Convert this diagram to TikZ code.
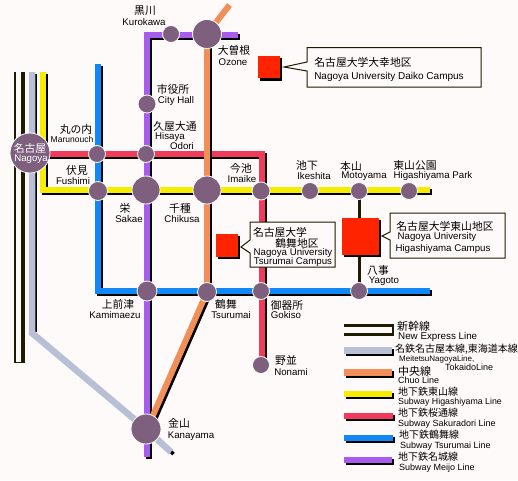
\documentclass[tikz,border=0pt]{standalone}
\usepackage{fontspec}
\setmainfont{Liberation Sans}
\newfontfamily\cjk{Noto Sans CJK JP}
\definecolor{bgc}{HTML}{FFFAFA}
\definecolor{stn}{HTML}{7E607E}
\definecolor{shk}{HTML}{1F1A00}
\definecolor{tkd}{HTML}{B8C0D6}
\definecolor{chu}{HTML}{F28F58}
\definecolor{hig}{HTML}{F5EC00}
\definecolor{sak}{HTML}{F23A5A}
\definecolor{tsu}{HTML}{1088F8}
\definecolor{mei}{HTML}{A85CEC}
\definecolor{red1}{HTML}{FF2400}
\tikzset{
 x=1pt,y=-1pt,
 stnnode/.style={circle,fill=stn,draw=white,line width=0.8pt,inner sep=0pt,outer sep=0pt,minimum size=#1},
 ja/.style={font=\cjk\fontsize{10.8}{12}\selectfont,inner sep=0pt,anchor=center},
 jal/.style={font=\cjk\fontsize{10}{12}\selectfont,inner sep=0pt,anchor=west},
 jam/.style={font=\cjk\fontsize{11}{12}\selectfont,inner sep=0pt,anchor=west},
 en/.style={font=\fontsize{9.7}{10}\selectfont,inner sep=0pt,anchor=center},
 enl/.style={font=\fontsize{9}{10}\selectfont,inner sep=0pt,anchor=west},
 enc/.style={font=\fontsize{10}{10}\selectfont,inner sep=0pt,anchor=center},
 callout/.style={draw=shk,fill=bgc,line width=1pt},
 redbox/.style={fill=red1,inner sep=0pt,outer sep=0pt},
}
\newcommand{\shline}[3]{% colour, width, path
  \draw[line width=#2,black,line cap=butt,line join=miter,shift={(2pt,-2pt)}] #3;
  \draw[line width=#2,#1,line cap=butt,line join=miter] #3;}
\begin{document}
\begin{tikzpicture}
\useasboundingbox[fill=bgc] (0,0) rectangle (518,480);
% Shinkansen
\fill[shk] (14,72) rectangle (25,363);
\fill[bgc] (16,72) rectangle (21,362);
% Tokaido / Meitetsu
\draw[line width=6.5pt,black] (34,74) -- (34,332);
\draw[line width=5pt,black] (170.5,453.5) -- (173,451);
\draw[line width=6.5pt,tkd,line join=miter] (32,72) -- (32,333) -- (146,429) -- (171,452);
% Higashiyama
\shline{hig}{6pt}{(43,72) -- (43,190) -- (430,190)}
% Sakuradori
\shline{sak}{6pt}{(30,154) -- (262,154) -- (262,365)}
% Tsurumai
\shline{tsu}{6pt}{(98,64) -- (98,291) -- (430,291)}
% Meijo
\shline{mei}{6pt}{(238,35) -- (147,35) -- (147,457)}
% Chuo
\shline{chu}{6pt}{(207,34) -- (207,292)}
\shline{chu}{6pt}{(207,292) -- (147,429)}
\draw[line width=6pt,chu] (207,34) -- (229.5,5);
% Motoyama-Yagoto link
\draw[line width=3pt,shk] (359.5,192) -- (359.5,290);
% stations
\node[stnnode=40pt] (nagoya) at (30,153) {};
\node[stnnode=29pt] (ozone) at (207,34) {};
\node[stnnode=17pt] (kuro) at (171,34) {};
\node[stnnode=18pt] (city) at (147,104) {};
\node[stnnode=17pt] (hisaya) at (146,154) {};
\node[stnnode=17pt] (maru) at (97,154) {};
\node[stnnode=19pt] (fushimi) at (98,191) {};
\node[stnnode=28pt] (sakae) at (146,190) {};
\node[stnnode=28pt] (chikusa) at (207,190) {};
\node[stnnode=18pt] (imaike) at (261,191) {};
\node[stnnode=17pt] (ikeshita) at (310,191) {};
\node[stnnode=17pt] (motoyama) at (359,191) {};
\node[stnnode=17pt] (higapark) at (409,191) {};
\node[stnnode=20pt] (kami) at (147,291) {};
\node[stnnode=19pt] (tsuru) at (207,292) {};
\node[stnnode=17pt] (gokiso) at (261,291) {};
\node[stnnode=17pt] (yagoto) at (359,291) {};
\node[stnnode=17pt] (nonami) at (261,365) {};
\node[stnnode=30pt] (kana) at (146,429) {};
% station labels
\node[ja,text=white] at (30,148) {名古屋};
\node[en,text=white] at (31,159.5) {Nagoya};
\node[ja] at (145,11) {黒川};
\node[en] at (144,22) {Kurokawa};
\node[ja] at (234,50) {大曽根};
\node[en] at (233,62) {Ozone};
\node[ja] at (173,89) {市役所};
\node[en] at (176,101) {City Hall};
\node[ja] at (175,126) {久屋大通};
\node[en] at (170,137) {Hisaya};
\node[en] at (182,146) {Odori};
\node[ja] at (76,129) {丸の内};
\node[en,font=\fontsize{8.5}{9}\selectfont] at (72,139) {Marunouch};
\node[ja] at (77,170) {伏見};
\node[en] at (73,181) {Fushimi};
\node[ja] at (125,208) {栄};
\node[en] at (129,219) {Sakae};
\node[ja] at (180,208) {千種};
\node[en] at (182,219) {Chikusa};
\node[ja] at (241,168) {今池};
\node[en] at (242,179) {Imaike};
\node[ja] at (307,165) {池下};
\node[en] at (314,176) {Ikeshita};
\node[ja] at (351,166) {本山};
\node[en] at (364,176) {Motoyama};
\node[ja] at (415,165) {東山公園};
\node[en] at (433,176) {Higashiyama Park};
\node[ja] at (118,304) {上前津};
\node[en] at (115,315) {Kamimaezu};
\node[ja] at (226,304) {鶴舞};
\node[en] at (231,315) {Tsurumai};
\node[ja] at (287,305) {御器所};
\node[en] at (286,315) {Gokiso};
\node[ja] at (378,270) {八事};
\node[en] at (384,281) {Yagoto};
\node[ja] at (286,360) {野並};
\node[en] at (291,372) {Nonami};
\node[ja] at (179,423) {金山};
\node[en] at (191,436) {Kanayama};
% campuses
\fill[black] (260,58) rectangle (282,81);
\node[redbox,minimum width=22pt,minimum height=22pt,anchor=north west] (daiko) at (258,56) {};
\fill[black] (218,236) rectangle (240,259);
\node[redbox,minimum width=22pt,minimum height=23pt,anchor=north west] (tsuruc) at (216,234) {};
\fill[black] (344,220) rectangle (381,257);
\node[redbox,minimum width=37pt,minimum height=37pt,anchor=north west] (higac) at (342,218) {};
% callouts
\draw[callout] (307,47.5) -- (481,47.5) -- (481,87) -- (307,87) -- (307,71) -- (284,67) -- (307,62) -- cycle;
\node[ja] (d1) at (363,62) {名古屋大学大幸地区};
\node[enc] (d2) at (389,76.5) {Nagoya University Daiko Campus};
\draw[callout] (390,213) -- (505,213) -- (505,258) -- (390,258) -- (390,240) -- (382,236) -- (390,232) -- cycle;
\node[ja] (h1) at (445,226) {名古屋大学東山地区};
\node[en] (h2) at (437,237) {Nagoya University};
\node[en] (h3) at (443,249) {Higashiyama Campus};
\draw[callout] (250,222) -- (335,222) -- (335,267) -- (250,267) -- (250,253) -- (241,247) -- (250,240) -- cycle;
\node[ja] (t1) at (280,232) {名古屋大学};
\node[ja] (t2) at (297,243) {鶴舞地区};
\node[en] (t3) at (293,253) {Nagoya University};
\node[en] (t4) at (293,262) {Tsurumai Campus};
% legend
\fill[shk] (344,324) rectangle (394,336);
\fill[bgc] (344,327) rectangle (392,332.5);
\shline{tkd}{7pt}{(344,350.5) -- (392,350.5)}
\shline{chu}{7pt}{(344,372.5) -- (392,372.5)}
\shline{hig}{6pt}{(344,394) -- (392,394)}
\shline{sak}{6pt}{(344,416) -- (393,416)}
\shline{tsu}{6pt}{(344,438) -- (393,438)}
\shline{mei}{6pt}{(344,460) -- (392,460)}
\node[jam] at (397,326) {新幹線};
\node[enl,font=\fontsize{9.8}{10}\selectfont] at (398,337) {New Express Line};
\node[jal] at (395,349) {名鉄名古屋本線,東海道本線};
\node[enl,font=\fontsize{8}{10}\selectfont] at (399,359.5) {MeitetsuNagoyaLine,};
\node[enl] at (445,367.5) {TokaidoLine};
\node[jam] at (398,371) {中央線};
\node[enl] at (398,380.5) {Chuo Line};
\node[jal] at (398,392) {地下鉄東山線};
\node[enl,font=\fontsize{8.8}{10}\selectfont] at (398,402) {Subway Higashiyama Line};
\node[jal] at (398,413) {地下鉄桜通線};
\node[enl] at (398,424) {Subway Sakuradori Line};
\node[jal] at (399,435) {地下鉄鶴舞線};
\node[enl] at (400,446) {Subway Tsurumai Line};
\node[jal] at (398,457) {地下鉄名城線};
\node[enl] at (399,468) {Subway Meijo Line};
\end{tikzpicture}
\end{document}
